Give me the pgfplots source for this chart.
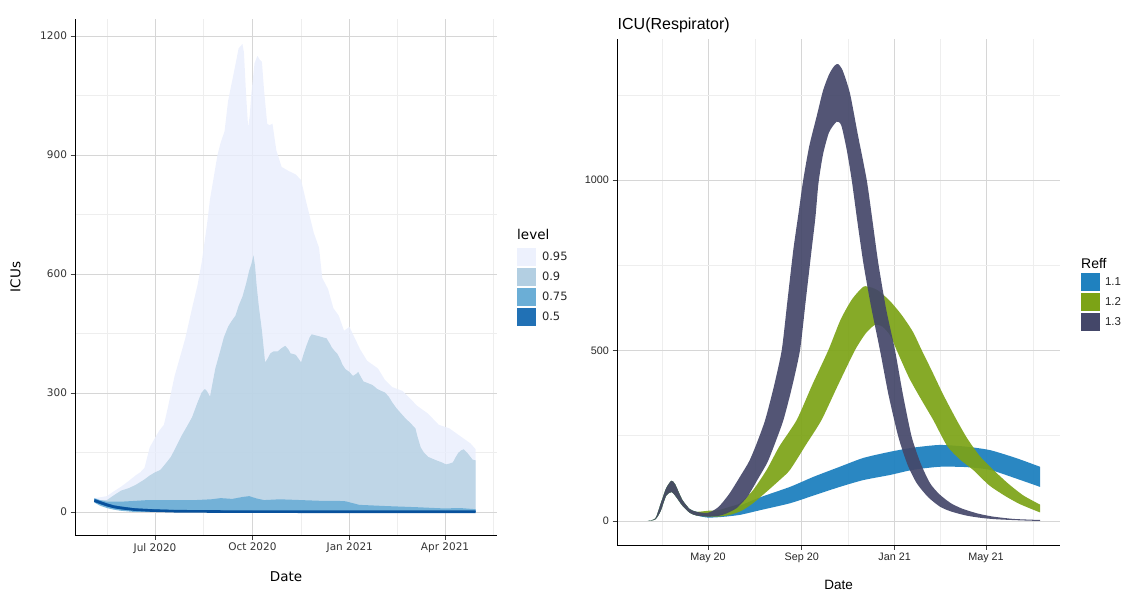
\documentclass[border=0pt]{standalone}
\usepackage{pgfplots}
\pgfplotsset{compat=1.18}
\usepackage{pgfplotstable}
\usepgfplotslibrary{fillbetween}
\usepackage{fontspec}
\setmainfont{DejaVu Sans}
\newfontfamily\libsans{Liberation Sans}

\definecolor{c95}{HTML}{E9EEFD}
\definecolor{c90}{HTML}{B3CFE2}
\definecolor{c75}{HTML}{6BAED6}
\definecolor{c50}{HTML}{2171B5}
\definecolor{cmed}{HTML}{08519C}
\definecolor{r11}{HTML}{1F81BF}
\definecolor{r12}{HTML}{7CA316}
\definecolor{r13}{HTML}{444769}
\definecolor{gmaj}{HTML}{D6D6D6}
\definecolor{gmin}{HTML}{EEEEEE}

% ---------- left panel: days since 1 Jan 2020 ----------
\pgfplotstableread{
d lo hi
124.7 27 35
130 20 37
136.5 14 40
143 9 52
150 6 64
157 3 78
163.5 2 92
168 1 100
172 0 111
177 0 163
182 0 187
186 0 205
190.4 0 220
194 0 262
200.5 0 343
205 0 385
210.6 0 438
217 0 514
222 0 570
226 0 628
231 0 723
234 0 790
237.6 0 846
241 0 900
244 0 931
247.7 0 960
251 0 1036
256 0 1102
261 0 1169
264.6 0 1180
266 0 1159
268 0 1055
270 0 969
271.5 0 1000
273 0 1055
276 0 1131
278.7 0 1150
281 0 1140
283 0 1135
285 0 1064
288 0 979
290 0 975
293 0 979
296.6 0 912
301.6 0 870
308 0 860
315 0 851
320 0 837
325 0 780
332 0 704
337 0 666
340 0 590
345.5 0 562
350.5 0 514
355.6 0 495
360.6 0 457
365.7 0 467
369 0 448
375.8 0 410
382.5 0 381
392.6 0 362
399 0 334
406 0 315
416 0 305
423 0 286
430 0 267
440 0 248
450 0 220
460 0 211
470 0 192
480 0 173
485 0 158
}\Lnf

\pgfplotstableread{
d lo hi
124.7 27 30
130 20 30
136.5 14 30
143 9 42
150 6 54
157 3 60
163.5 2 68
172 0 82
177 0 92
182 0 100
187 0 106
192 0 122
197 0 139
202 0 165
207 0 192
212 0 215
217 0 239
222 0 275
226 0 301
229 0 310
231 0 305
234 0 291
236 0 320
239 0 362
244 0 410
247 0 440
251 0 467
254 0 480
258 0 495
261 0 520
264.6 0 543
268 0 575
271 0 609
273 0 625
275 0 647
276.5 0 620
278 0 571
280 0 520
283 0 457
286 0 377
288 0 385
291 0 400
294 0 405
298 0 405
301 0 412
305 0 419
308 0 410
310 0 400
313 0 398
315 0 396
318 0 385
320 0 377
322 0 395
325 0 419
328 0 440
330 0 448
334 0 445
337 0 443
341 0 440
344 0 438
347 0 425
349 0 415
352 0 405
354 0 400
357 0 385
359 0 372
362 0 360
365.7 0 353
369 0 343
372 0 348
374 0 353
377 0 338
379 0 329
383 0 325
387.6 0 320
392 0 310
396 0 305
399.4 0 301
403 0 290
406 0 277
410 0 262
414.6 0 248
419 0 235
423 0 225
428 0 211
430 0 190
433 0 163
436 0 150
440 0 139
448 0 130
453 0 125
457 0 120
460 0 122
463.4 0 125
466 0 138
468.5 0 149
471 0 155
473.5 0 158
476 0 152
478.6 0 144
482 0 132
485 0 130
}\Lninety

\pgfplotstableread{
d lo hi
124.7 24 35
130 16 30
136.5 10 26
143 6 26
150 3 26
163 0 28
175 0 30
200 0 30
220 0 30
235 0 32
244 0 35
255 0 33
265 0 38
271 0 40
278 0 34
285 0 30
300 0 32
320 0 30
340 0 28
355 0 28
362 0 27
375 0 18
400 0 15
430 0 12
455 0 9
470 0 10
485 0 7
}\Lsf

\pgfplotstableread{
d lo hi med
124.7 25 33 29
130 20 28 24
136.5 14 22 18
143 10 17 13
150 7 14 10
163 4 9 6
180 2 7 3.5
200 1 5 2
250 0 3 1
300 0 2 0.8
400 0 2 0.5
485 0 2 0.5
}\Lfifty

% ---------- right panel: days since 1 Jan 2020 ----------
% Reff 1.1
\pgfplotstableread{
d v
42 0
52 8
59 52
66 96
73 118
78 107
87 63
97 35
106 27
121 19
140 25
163 45
190 70
228.6 100
260 130
294 159
325 185
360 203
390 215
425 223
460 218
491 208
525 185
557 159
}\RoneU
\pgfplotstableread{
d v
42 0
52 5
59 30
66 74
73 85
78 74
87 46
97 24
106 16
121 10
140 12
163 18
190 32
228.6 52
260 75
294 100
325 120
360 135
390 150
425 159
460 158
491 150
525 125
557 100
}\RoneL
% Reff 1.2
\pgfplotstableread{
d v
42 0
52 8
59 52
66 96
73 118
78 107
87 63
97 35
106 27
121 30
135 32
150 42
163 52
180 90
198 150
215 220
237.4 296
258 400
279 501
295 590
310 650
325 687
335 685
345 675
360 645
375 605
390 555
401.6 501
415 440
430 370
447.5 296
462 240
478 190
495.6 150
515 110
535 75
557 48
}\RtwoU
\pgfplotstableread{
d v
42 0
52 5
59 30
66 74
73 85
78 74
87 46
97 24
106 16
121 13
135 13
150 18
165 30
180 52
200 90
215 120
228.7 150
250 225
270 296
292 400
314 501
328 550
340 575
350 570
360 545
368.7 501
385 420
400 360
416.8 296
435 220
452 180
469 150
490 105
510 75
530 50
557 25
}\RtwoL
% Reff 1.3
\pgfplotstableread{
d v
42 0
52 8
59 52
66 96
73 118
78 107
87 63
97 35
106 27
121 24
134.7 41
149 80
163 130
175 175
185 228
196 296
207 390
217.8 501
225 640
233 795
240 905
246 1000
254 1100
263.7 1187
272 1262
280 1310
287 1335
292 1340
298 1320
307.4 1254
318 1130
329.4 1000
337 880
344.6 756
355 620
366.5 501
377 370
388.4 247
400 170
412.5 111
425 78
440 52
455 36
475 22
495 13
523 6
557 3
}\RthreeU
\pgfplotstableread{
d v
42 0
52 5
59 30
66 74
73 85
78 74
87 46
97 24
106 16
121 13
135 15
145 22
158.7 38
173 72
187 125
199 172
209 228
220 296
231 390
241.8 501
249 640
257 795
262 890
266 990
272 1075
280 1140
290 1171
296 1160
303 1090
309.7 1000
317 880
325 756
335 630
346.8 501
358 370
370.9 247
383 165
395 111
410 70
425.6 42
440 28
460 16
480 9
500 5
530 2
557 0
}\RthreeL

\pgfplotsset{
  common/.style={
    scale only axis, anchor=south west,
    axis x line*=bottom, axis y line*=left,
    axis line style={black, line width=0.9pt, -},
    tick align=outside, major tick length=4.5pt, minor tick length=0pt,
    tick style={black!75, line width=0.6pt},
    grid=both,
    major grid style={gmaj, line width=0.6pt},
    minor grid style={gmin, line width=0.5pt},
    /pgf/number format/assume math mode=true,
    clip=true,
  },
  keybox/.style={legend image code/.code={
      \path[draw=none, fill=white] (0pt,-10pt) rectangle (19pt,10pt);
      \path[##1, draw=none] (0pt,-9.4pt) rectangle (19pt,9.4pt);}},
}

\begin{document}
\begin{tikzpicture}

% ================= LEFT PANEL =================
\begin{axis}[common,
  at={(75pt,55pt)}, width=422pt, height=516pt,
  xmin=106.4, xmax=505.1, ymin=-58, ymax=1242.8,
  xtick={182,274,366,456},
  xticklabels={Jul 2020,Oct 2020,Jan 2021,Apr 2021},
  minor xtick={136.5,228,320,411,501.5},
  ytick={0,300,600,900,1200},
  yticklabels={0,300,600,900,1200},
  minor ytick={150,450,750,1050},
  ticklabel style={font=\fontsize{10.5}{12}\selectfont, text=black!80},
  legend style={at={(1.0474,0.558)}, anchor=north west, draw=none, fill=none,
    inner sep=0pt, outer sep=0pt, row sep=0pt, column sep=6pt,
    font=\fontsize{11.5}{13}\selectfont, text=black!85,
    nodes={inner sep=0pt}},
  legend cell align=left, keybox,
]
\addplot[name path=a1, draw=none, forget plot] table[x=d,y=hi]{\Lnf};
\addplot[name path=b1, draw=none, forget plot] table[x=d,y=lo]{\Lnf};
\addplot[fill=c95, fill opacity=0.8, draw=none, forget plot] fill between[of=a1 and b1];
\addplot[name path=a2, draw=none, forget plot] table[x=d,y=hi]{\Lninety};
\addplot[name path=b2, draw=none, forget plot] table[x=d,y=lo]{\Lninety};
\addplot[fill=c90, fill opacity=0.8, draw=none, forget plot] fill between[of=a2 and b2];
\addplot[name path=a3, draw=none, forget plot] table[x=d,y=hi]{\Lsf};
\addplot[name path=b3, draw=none, forget plot] table[x=d,y=lo]{\Lsf};
\addplot[fill=c75, fill opacity=0.9, draw=none, forget plot] fill between[of=a3 and b3];
\addplot[name path=a4, draw=none, forget plot] table[x=d,y=hi]{\Lfifty};
\addplot[name path=b4, draw=none, forget plot] table[x=d,y=lo]{\Lfifty};
\addplot[fill=c50, draw=none, forget plot] fill between[of=a4 and b4];
\addplot[cmed, line width=2.6pt, forget plot] table[x=d,y=med]{\Lfifty};
\addlegendimage{fill=c95!80!white}\addlegendentry{0.95}
\addlegendimage{fill=c90}\addlegendentry{0.9}
\addlegendimage{fill=c75}\addlegendentry{0.75}
\addlegendimage{fill=c50}\addlegendentry{0.5}
\end{axis}

\node[anchor=base, inner sep=0pt, font=\fontsize{13.5}{15}\selectfont] at (286pt,8.5pt) {Date};
\node[anchor=base, inner sep=0pt, rotate=90, font=\fontsize{13.5}{15}\selectfont] at (20.4pt,313pt) {ICUs};
\node[anchor=base west, inner sep=0pt, font=\fontsize{13.5}{15}\selectfont] at (517pt,351pt) {level};

% ================= RIGHT PANEL =================
\begin{axis}[common,
  at={(617pt,45pt)}, width=443pt, height=506pt,
  xmin=1.5, xmax=583.2, ymin=-70.4, ymax=1413.5,
  xtick={121,244,366,486},
  xticklabels={May 20,Sep 20,Jan 21,May 21},
  minor xtick={60.5,182.5,305,426,547.5},
  ytick={0,500,1000},
  yticklabels={0,500,1000},
  minor ytick={250,750,1250},
  ticklabel style={font=\libsans\fontsize{10.8}{12}\selectfont, text=black!85},
  legend style={at={(1.0474,0.5395)}, anchor=north west, draw=none, fill=none,
    inner sep=0pt, outer sep=0pt, row sep=0pt, column sep=5pt,
    font=\libsans\fontsize{11.5}{13}\selectfont, text=black!85,
    nodes={inner sep=0pt}},
  legend cell align=left, keybox,
]
\addplot[name path=p1, draw=none, smooth, tension=0.4, forget plot] table[x=d,y=v]{\RoneU};
\addplot[name path=q1, draw=none, smooth, tension=0.4, forget plot] table[x=d,y=v]{\RoneL};
\addplot[fill=r11, fill opacity=0.95, draw=none, forget plot] fill between[of=p1 and q1];
\addplot[name path=p2, draw=none, smooth, tension=0.4, forget plot] table[x=d,y=v]{\RtwoU};
\addplot[name path=q2, draw=none, smooth, tension=0.4, forget plot] table[x=d,y=v]{\RtwoL};
\addplot[fill=r12, fill opacity=0.92, draw=none, forget plot] fill between[of=p2 and q2];
\addplot[name path=p3, draw=none, smooth, tension=0.4, forget plot] table[x=d,y=v]{\RthreeU};
\addplot[name path=q3, draw=none, smooth, tension=0.4, forget plot] table[x=d,y=v]{\RthreeL};
\addplot[fill=r13, fill opacity=0.92, draw=none, forget plot] fill between[of=p3 and q3];
\addlegendimage{fill=r11}\addlegendentry{1.1}
\addlegendimage{fill=r12}\addlegendentry{1.2}
\addlegendimage{fill=r13}\addlegendentry{1.3}
\end{axis}

\node[anchor=base west, inner sep=0pt, font=\libsans\fontsize{16}{18}\selectfont] at (617.5pt,560.6pt) {ICU(Respirator)};
\node[anchor=base west, inner sep=0pt, font=\libsans\fontsize{14}{16}\selectfont] at (1081pt,322pt) {Reff};
\node[anchor=base, inner sep=0pt, font=\libsans\fontsize{13.5}{15}\selectfont] at (838.5pt,0.7pt) {Date};

\pgfresetboundingbox
\path[use as bounding box] (0pt,0pt) rectangle (1126pt,590pt);
\end{tikzpicture}
\end{document}
